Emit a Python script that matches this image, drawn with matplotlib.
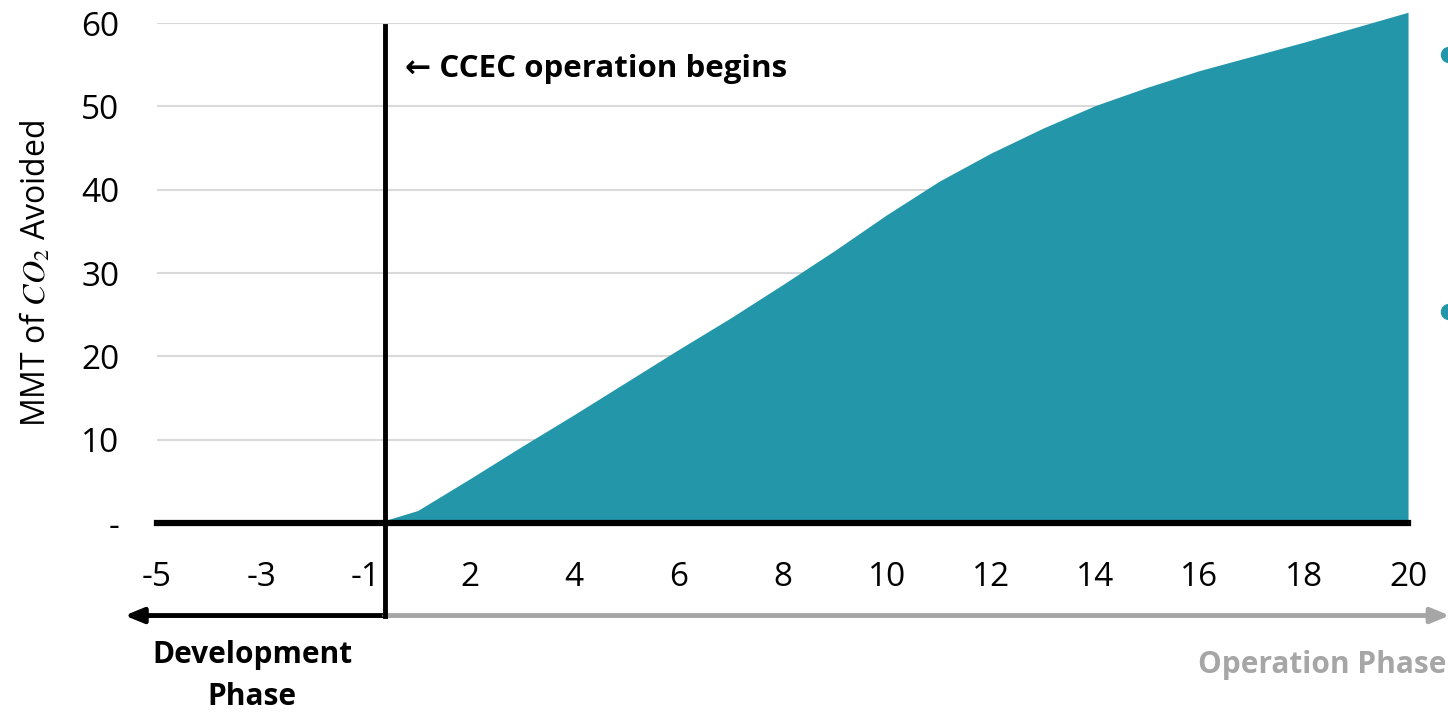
import matplotlib.pyplot as plt
from matplotlib.patches import Ellipse

plt.rcParams['font.family'] = ['Open Sans', 'DejaVu Sans']
plt.rcParams['mathtext.fontset'] = 'stix'

# category axis: development years -5..-1, then operation years 1..20
categories = [-5, -4, -3, -2, -1] + list(range(1, 21))
op_years = list(range(1, 21))
co2_avoided = [1.5, 5.3, 9.2, 13.0, 16.9, 20.8, 24.6, 28.6, 32.7, 37.0,
               41.0, 44.4, 47.4, 50.1, 52.3, 54.3, 56.0, 57.7, 59.5, 61.3]
start_value = 0.3
op_start_pos = 4.37      # where operation begins, between -1 and 1 categories
y_ticks = [0, 10, 20, 30, 40, 50, 60]
y_labels = ['-', '10', '20', '30', '40', '50', '60']

teal = '#2397A9'
grey = '#A6A6A6'

fig = plt.figure(figsize=(14.48, 7.12), dpi=100)
ax = fig.add_axes([0.1084, 0.2654, 0.864, 0.7022])

pos = {c: i for i, c in enumerate(categories)}
xs = [op_start_pos] + [pos[y] for y in op_years]
ys = [start_value] + co2_avoided
ax.fill_between(xs, 0, ys, color=teal, lw=0, clip_on=False, zorder=2)

ax.set_xlim(0, len(categories) - 1)
ax.set_ylim(0, 60)

ax.set_yticks(y_ticks)
ax.set_yticklabels(y_labels)
ax.set_xticks(range(0, len(categories), 2))
ax.set_xticklabels([str(c) for c in categories[::2]])
ax.tick_params(axis='both', length=0, labelsize=24)
ax.tick_params(axis='x', pad=27)
ax.tick_params(axis='y', pad=27)

ax.grid(axis='y', color='#D9D9D9', lw=1.5)
ax.set_axisbelow(True)
for s in ax.spines.values():
    s.set_visible(False)
ax.axhline(0, color='black', lw=4.5, zorder=3, clip_on=False)

ax.set_ylabel('MMT of $CO_2$ Avoided', fontsize=23, labelpad=20)

# start-of-operation marker line
xt = ax.get_xaxis_transform()
ax.plot([op_start_pos, op_start_pos], [0.994, -0.185], transform=xt,
        color='black', lw=3.5, clip_on=False, zorder=4)
ax.text(op_start_pos + 0.38, 0.908, '\u2190 CCEC operation begins', transform=xt,
        fontsize=22.5, fontweight='bold', va='center', ha='left')

# phase arrows
ax.annotate('', xy=(-0.62, -0.185), xytext=(op_start_pos, -0.185),
            xycoords=xt, textcoords=xt, annotation_clip=False,
            arrowprops=dict(arrowstyle='-|>,head_length=1.1,head_width=0.45',
                            color='black', lw=3.5, shrinkA=0, shrinkB=0))
ax.annotate('', xy=(24.8, -0.185), xytext=(op_start_pos, -0.185),
            xycoords=xt, textcoords=xt, annotation_clip=False,
            arrowprops=dict(arrowstyle='-|>,head_length=1.1,head_width=0.45',
                            color=grey, lw=3.5, shrinkA=0, shrinkB=0))

fig.text(252 / 1448, 1 - 676 / 712, 'Development\nPhase', ha='center', va='center',
         fontsize=21.5, fontweight='bold', linespacing=1.5)
fig.text(1446 / 1448, 1 - 665 / 712, 'Operation Phase', ha='right', va='center',
         fontsize=21.5, fontweight='bold', color=grey)

# slide bullets cut off at the right edge
for yb in [55, 312]:
    fig.add_artist(Ellipse((1449 / 1448, 1 - yb / 712), 15 / 1448, 15 / 712,
                           transform=fig.transFigure, color=teal))

fig.savefig('out.png', dpi=100)
